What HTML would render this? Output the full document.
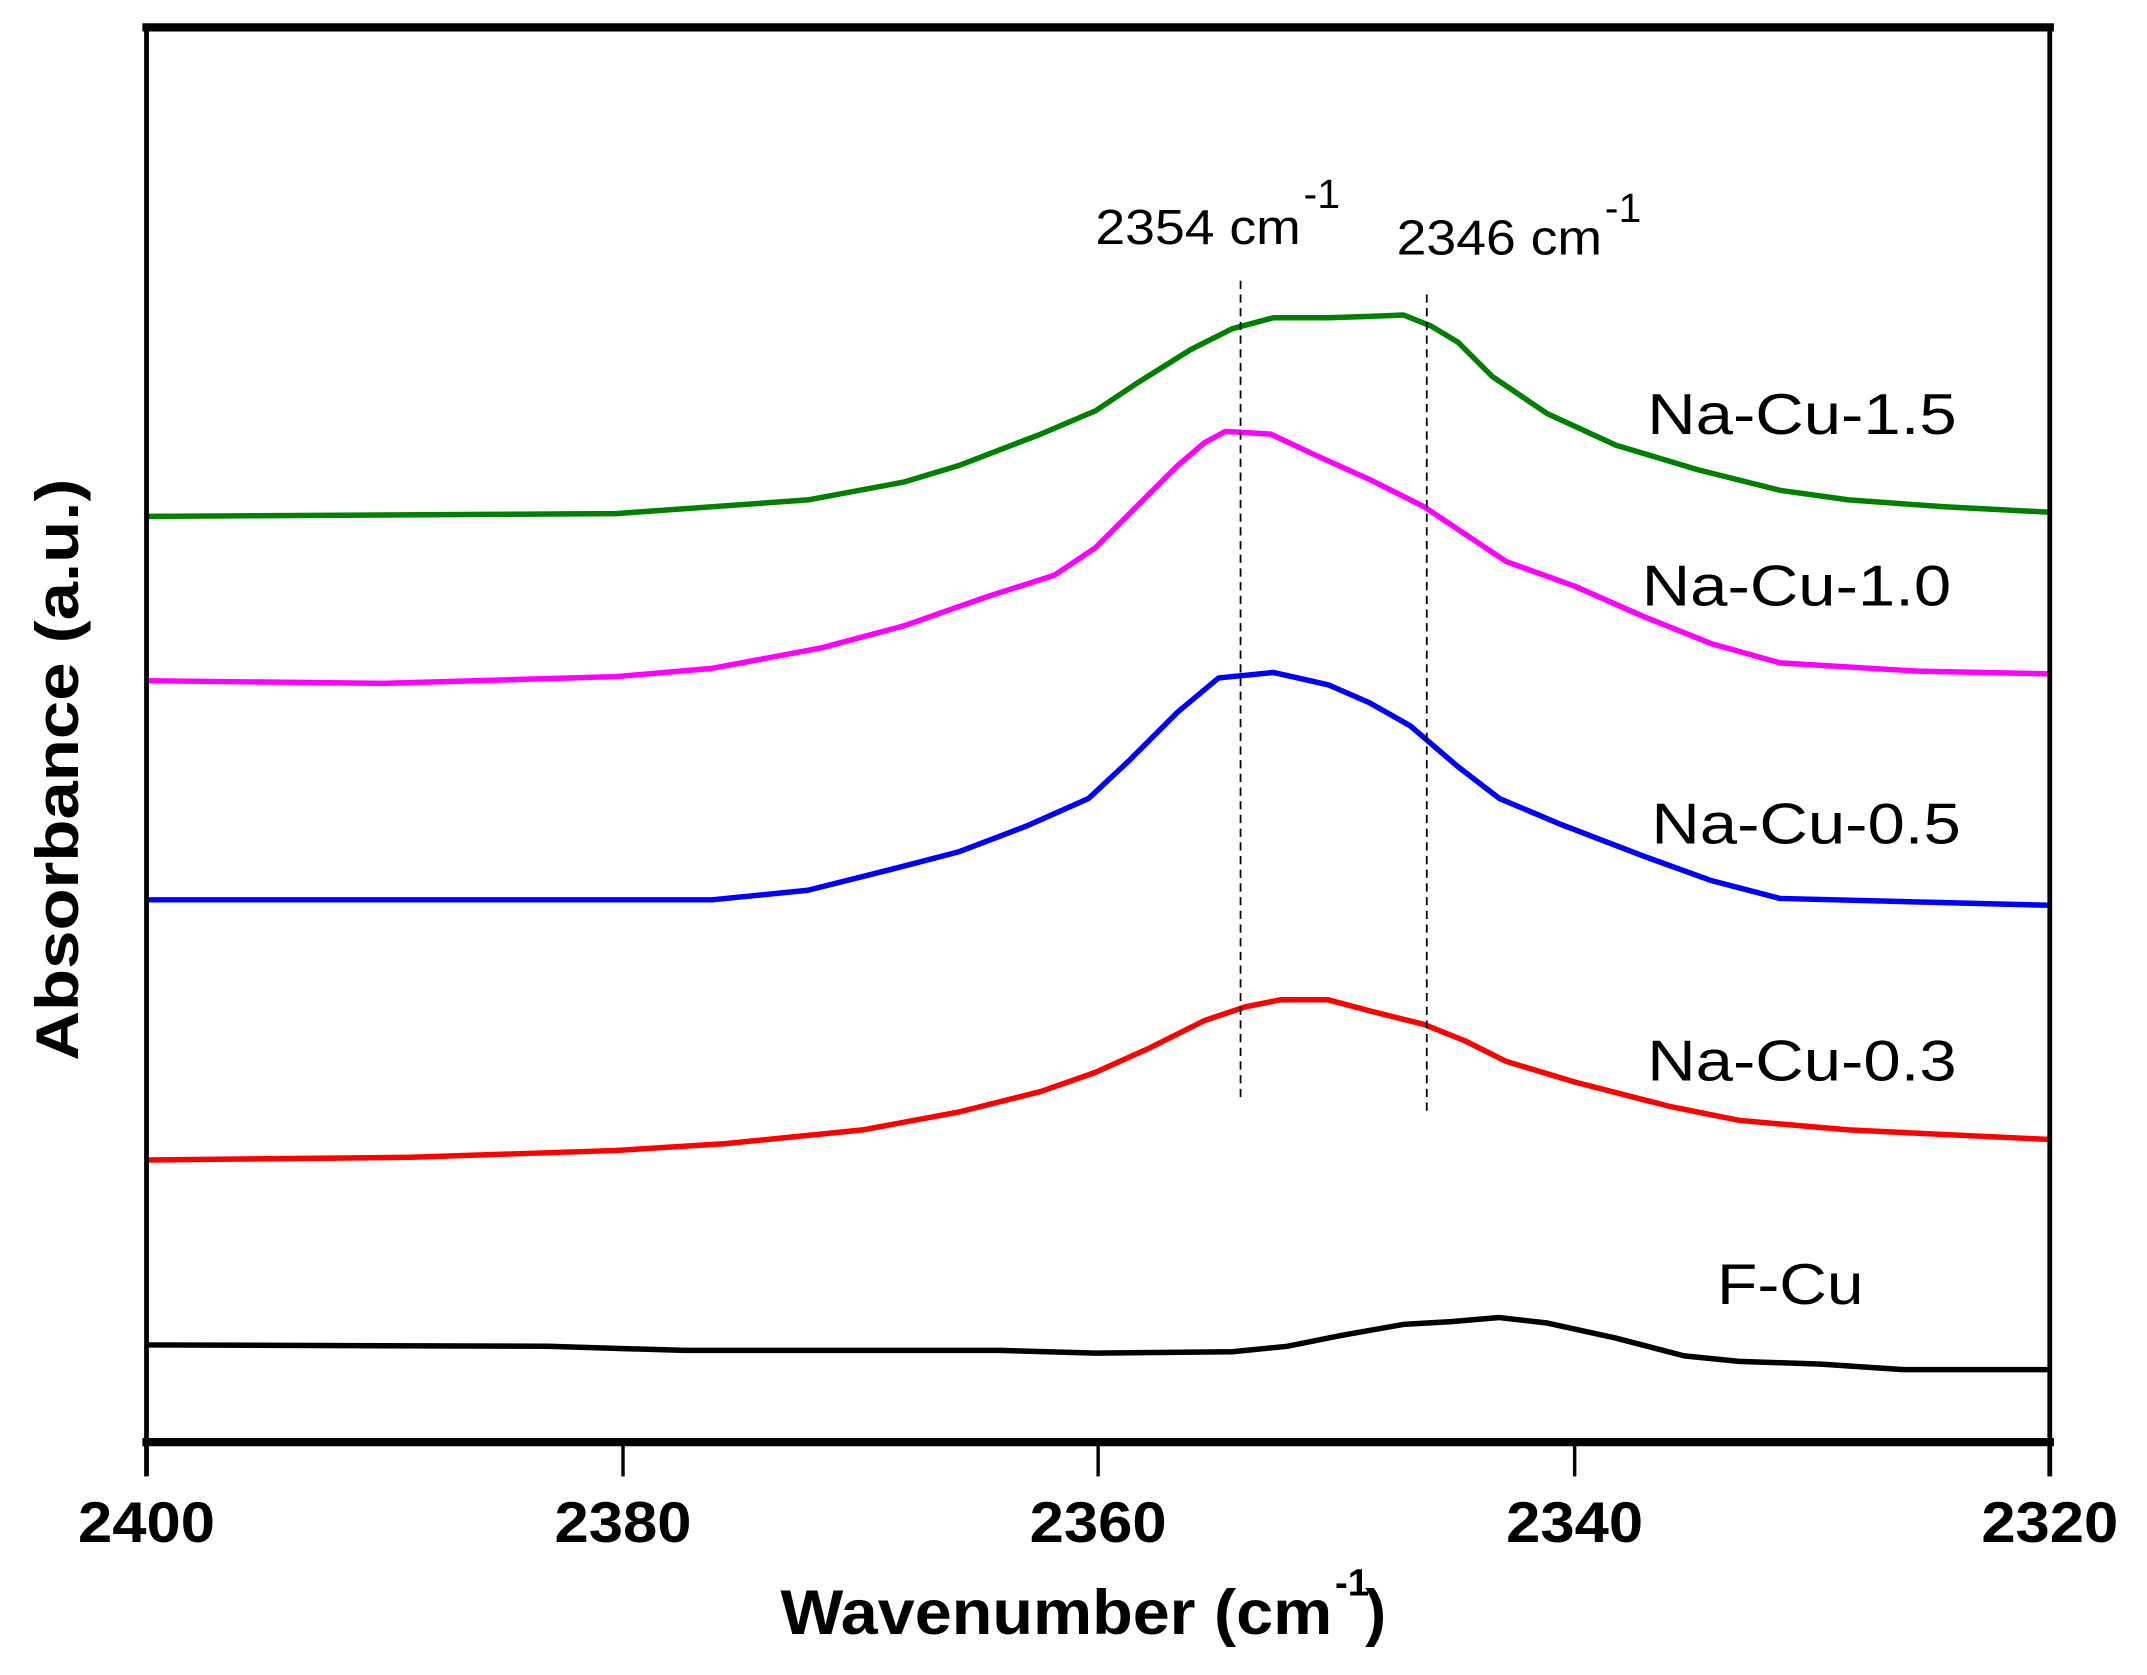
<!DOCTYPE html>
<html><head><style>html,body{margin:0;padding:0;background:#fff}svg{display:block}</style></head>
<body>
<svg width="2147" height="1675" viewBox="0 0 1568 1223" preserveAspectRatio="none" xmlns="http://www.w3.org/2000/svg" font-family="Liberation Sans, sans-serif">
<rect width="1568" height="1223" fill="#fff"/>
<g fill="none" stroke-width="4" stroke-linejoin="round">
<polyline stroke="#008000" points="107,377 450,375 590,365 660,352 700,340 760,317 800,300 830,280 870,255 900,240 930,232 970,232 1000,231 1025,230 1045,238 1065,250 1090,275 1130,302 1180,325 1240,343 1300,358 1350,365 1420,370 1497,374"/>
<polyline stroke="#ff00ff" points="107,497 280,499 450,494 520,488 600,473 660,457 720,436 770,420 800,400 830,370 860,340 880,323 895,315 928,317 960,332 1000,350 1040,370 1070,390 1100,410 1150,428 1200,450 1250,470 1300,484 1400,490 1497,492"/>
<polyline stroke="#0000ff" points="107,657 520,657 590,650 650,635 700,622 750,603 795,583 825,555 860,520 890,495 930,491 970,500 1000,513 1030,530 1065,560 1095,583 1140,602 1200,625 1250,643 1300,656 1497,661"/>
<polyline stroke="#ff0000" points="107,847 300,845 450,840 530,835 630,825 700,812 760,797 800,783 840,765 880,745 910,735 935,730 970,730 1000,738 1040,748 1070,760 1100,775 1150,790 1220,808 1270,818 1350,825 1497,832"/>
<polyline stroke="#000" points="107,982 400,983 500,986 730,986 800,988 900,987 940,983 980,975 1025,967 1060,965 1095,962 1130,966 1180,977 1230,990 1270,994 1330,996 1390,1000 1497,1000"/>
</g>
<g stroke="#000" stroke-width="1.3" stroke-dasharray="6,4">
<line x1="906" y1="205" x2="906" y2="803"/>
<line x1="1042" y1="215" x2="1042" y2="812"/>
</g>
<g stroke="#000" fill="none">
<line x1="104" y1="20" x2="1500" y2="20" stroke-width="6"/>
<line x1="104" y1="1053" x2="1500" y2="1053" stroke-width="6"/>
<line x1="107" y1="18" x2="107" y2="1078" stroke-width="3.5"/>
<line x1="1497" y1="18" x2="1497" y2="1078" stroke-width="3.5"/>
<line x1="455" y1="1053" x2="455" y2="1078" stroke-width="2.5"/>
<line x1="802" y1="1053" x2="802" y2="1078" stroke-width="2.5"/>
<line x1="1150" y1="1053" x2="1150" y2="1078" stroke-width="2.5"/>
</g>
<g font-weight="bold" font-size="42" text-anchor="middle" fill="#000">
<text x="107" y="1126" textLength="100" lengthAdjust="spacingAndGlyphs">2400</text>
<text x="455" y="1126" textLength="100" lengthAdjust="spacingAndGlyphs">2380</text>
<text x="802" y="1126" textLength="100" lengthAdjust="spacingAndGlyphs">2360</text>
<text x="1150" y="1126" textLength="100" lengthAdjust="spacingAndGlyphs">2340</text>
<text x="1497" y="1126" textLength="100" lengthAdjust="spacingAndGlyphs">2320</text>
</g>
<text x="570" y="1193" font-weight="bold" font-size="46" textLength="403" lengthAdjust="spacingAndGlyphs">Wavenumber (cm</text>
<text x="975" y="1165" font-weight="bold" font-size="28">-1</text>
<text x="997" y="1193" font-weight="bold" font-size="46">)</text>
<text transform="translate(57,562) rotate(-90)" text-anchor="middle" font-weight="bold" font-size="44" textLength="425" lengthAdjust="spacingAndGlyphs">Absorbance (a.u.)</text>
<g font-size="36" fill="#000">
<text x="800" y="178" textLength="150" lengthAdjust="spacingAndGlyphs">2354 cm</text>
<text x="952" y="152" font-size="30">-1</text>
<text x="1020" y="186" textLength="150" lengthAdjust="spacingAndGlyphs">2346 cm</text>
<text x="1172" y="162" font-size="30">-1</text>
</g>
<g font-size="42" fill="#000">
<text x="1203" y="317" textLength="226" lengthAdjust="spacingAndGlyphs">Na-Cu-1.5</text>
<text x="1199" y="442" textLength="226" lengthAdjust="spacingAndGlyphs">Na-Cu-1.0</text>
<text x="1206" y="616" textLength="226" lengthAdjust="spacingAndGlyphs">Na-Cu-0.5</text>
<text x="1203" y="789" textLength="226" lengthAdjust="spacingAndGlyphs">Na-Cu-0.3</text>
<text x="1254" y="952" textLength="107" lengthAdjust="spacingAndGlyphs">F-Cu</text>
</g>
</svg>
</body></html>
